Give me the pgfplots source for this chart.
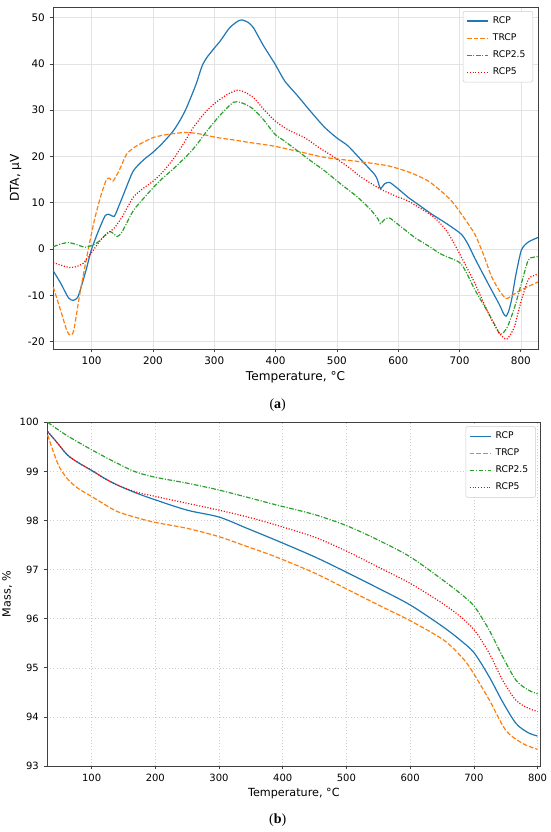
\documentclass[border=0pt]{standalone}
\usepackage{pgfplots}
\pgfplotsset{compat=1.18}
\usepackage{fontspec}
\setmainfont{DejaVu Sans}
\newfontfamily\capfont{Liberation Serif}
\definecolor{c0}{HTML}{1F77B4}
\definecolor{c1}{HTML}{FF7F0E}
\definecolor{c2}{HTML}{2CA02C}
\definecolor{c3}{HTML}{FF0000}
\pgfplotsset{
  mystyle/.style={
    scale only axis,
    axis line style={black!75, line width=0.6pt},
    tick align=outside,
    major tick length=2.6pt,
    tick style={black!75, line width=0.5pt},
    xtick pos=bottom, ytick pos=left,
    /pgf/number format/assume math mode=true,
    grid=major,
    legend cell align=left,
    legend image code/.code={\draw[##1] (0pt,0pt) -- (16pt,0pt);},
    legend style={at={(1,1)}, anchor=north east, xshift=-3.7pt, yshift=-3pt,
      draw=black!20, rounded corners=1.5pt, inner xsep=2.5pt, inner ysep=2pt,
      row sep=2.2pt,
      font=\fontsize{6.9}{8}\selectfont,
      nodes={inner xsep=3pt}},
  },
  s0/.style={color=c0, line width=0.9pt, smooth, tension=0.4},
  s1/.style={color=c1, line width=0.9pt, dash pattern=on 3.5pt off 1.5pt, smooth, tension=0.4},
  s2/.style={color=c2, line width=0.9pt, dash pattern=on 3.5pt off 1.2pt on 0.8pt off 1.2pt, smooth, tension=0.4},
  s3/.style={color=c3, line width=0.9pt, dash pattern=on 0.8pt off 1.3pt, smooth, tension=0.4},
}
\begin{document}
\begin{tikzpicture}
\path[use as bounding box] (0,0) rectangle (412.5pt,-624pt);
% ---------------- (a) DTA
\begin{axis}[mystyle,
  at={(39.75pt,-5.25pt)}, anchor=north west,
  width=363.75pt, height=256.5pt,
  xmin=37, xmax=828, ymin=-21.6, ymax=52.3,
  xtick={100,200,...,800}, ytick={-20,-10,0,10,20,30,40,50},
  grid style={gray!22, line width=0.4pt},
  tick label style={font=\fontsize{7.8}{9}\selectfont},
  label style={font=\fontsize{9.1}{11}\selectfont},
  xlabel={Temperature, °C}, ylabel={DTA, μV},
  xlabel style={yshift=2pt}, ylabel style={yshift=-2pt},
]
\addplot[s0] coordinates {
(37.4,-4.7) (50,-7.5) (62,-10.5) (70,-11.1) (78,-10.2) (90,-5.0) (100,0) (112,4.2) (122,7.2) (128,7.5) (137,7.1) (145,9.5) (155,12.8) (168,16.9) (185,19.3) (200,20.9) (215,22.8) (233,25.5) (245,28.0) (255,30.6) (270,35.5) (280,39.5) (288,41.4) (300,43.4) (310,45) (325,47.8) (338,49.2) (345,49.5) (355,49) (364,47.8) (380,44) (399,40) (415,36.3) (436,33.1) (458,29.6) (480,26.3) (500,24) (518,22.3) (540,19.2) (561,16.2) (566,15) (571,13.1) (578,14.1) (586,14.4) (600,13.0) (616,11.2) (635,9.4) (654,7.6) (680,5.4) (703,3.2) (714,1.0) (725,-2) (738,-5.3) (752,-8.8) (765,-12.0) (772,-14.0) (776,-14.5) (780,-13.5) (785,-10.9) (792,-5.5) (801,-0.2) (812,1.5) (828,2.5)
};
\addlegendentry{RCP}
\addplot[s1] coordinates {
(37.4,-8.2) (50,-13.5) (60,-17.8) (65.7,-18.6) (71,-17.5) (81,-9.5) (94.6,0) (105,6.5) (115,11.5) (124.5,15.1) (130,15.2) (135,14.7) (145,17.0) (157,20.5) (170,22.0) (179,22.7) (200.7,24.1) (225,24.8) (255,25.2) (280,24.8) (304,24.1) (330,23.6) (358.6,23) (380,22.6) (399,22.2) (440,21.0) (480,19.8) (530,19.0) (583,18) (620,16.5) (649,14.7) (670,12.5) (687,10.4) (705,7.2) (725,3.2) (740,-1.5) (752,-5.9) (765,-9.0) (776,-10.7) (786,-10.0) (797,-9.1) (812,-8.1) (828,-7.1)
};
\addlegendentry{TRCP}
\addplot[s2] coordinates {
(37.4,0.5) (50,1.1) (62,1.4) (75,1.0) (89,0.4) (103,0.9) (115,2.0) (124,3.3) (130,3.8) (137,3.2) (142,2.7) (150,3.8) (168,8.3) (185,11.0) (200.7,13.3) (215,15.2) (233,17.3) (255,20.1) (270,22.3) (288,25.5) (310,29.0) (331,31.7) (342,31.7) (352,31.2) (364,30.2) (380,28.0) (399,24.8) (415,23.3) (436,21.2) (458,19.0) (480,16.9) (505,14.2) (534,11.2) (555,8.5) (567,6.5) (571,5.5) (578,6.4) (586,6.7) (600,5.3) (627,2.5) (650,0.6) (670,-1.1) (700,-2.9) (712,-5.3) (725,-8.8) (747,-13.8) (760,-17.0) (766,-18.4) (772,-18.0) (779,-16.6) (790,-12.5) (801,-7.4) (812,-2.4) (820,-1.8) (828,-1.6)
};
\addlegendentry{RCP2.5}
\addplot[s3] coordinates {
(37.4,-2.9) (50,-3.5) (64.6,-4.0) (75,-3.8) (86,-3.1) (95,-1.6) (103,-0.2) (115,2.0) (124.5,3.2) (132,4.0) (138,4.7) (150,7.0) (168,11.2) (185,13.2) (200.7,14.7) (215,16.5) (233,19.4) (250,22.8) (266,26.3) (285,29.5) (299,31.3) (320,33.3) (337,34.3) (350,33.9) (364,32.7) (380,30.3) (399,27.7) (420,25.8) (447,24.1) (470,22.0) (496,19.8) (520,17.6) (540,15.5) (572,12.9) (595,11.5) (616,10.4) (640,8.5) (659,6.8) (677,4.3) (692,1.0) (710,-3.5) (725,-7.4) (740,-11.8) (752,-15.2) (765,-18.2) (776,-19.5) (783,-18.5) (790,-16.6) (800,-11.5) (812,-6.6) (820,-5.8) (828,-5.4)
};
\addlegendentry{RCP5}
\end{axis}
\node[font=\capfont\fontsize{10.5}{12}\selectfont] at (208.3pt,-303.75pt) {(\textbf{a})};
% ---------------- (b) Mass
\begin{axis}[mystyle,
  at={(35.25pt,-316.7pt)}, anchor=north west,
  width=370.3pt, height=257.8pt,
  xmin=30, xmax=805, ymin=93, ymax=100,
  xtick={100,200,...,800}, ytick={93,94,...,100},
  grid style={gray!40, line width=0.4pt, dotted},
  tick label style={font=\fontsize{7.5}{9}\selectfont},
  label style={font=\fontsize{8.4}{10}\selectfont},
  xlabel={Temperature, °C}, ylabel={Mass, \%},
  xlabel style={yshift=2pt}, ylabel style={yshift=-1pt},
]
\addplot[s0, tension=0.5] coordinates {
(31,99.81) (45,99.6) (62.4,99.33) (80,99.17) (100,99.02) (120,98.86) (140.7,98.72) (170,98.56) (200,98.42) (250,98.21) (300,98.07) (344,97.84) (389,97.6) (450,97.26) (501,96.94) (550,96.62) (600,96.28) (651,95.84) (680,95.55) (700.7,95.3) (724,94.82) (745,94.31) (766,93.87) (785,93.68) (800,93.61)
};
\addlegendentry{RCP}
\addplot[s1, tension=0.5] coordinates {
(31,99.74) (40,99.4) (49,99.1) (62,98.85) (78,98.66) (100,98.49) (120,98.33) (140.7,98.18) (170,98.06) (200,97.96) (250,97.84) (300,97.67) (344,97.47) (389,97.26) (450,96.93) (501,96.6) (550,96.28) (600,95.96) (651,95.58) (675,95.3) (693,95.02) (724,94.35) (750,93.73) (776.5,93.46) (800,93.34)
};
\addlegendentry{TRCP}
\addplot[s2, tension=0.5] coordinates {
(31,100.0) (60,99.74) (100,99.44) (135,99.2) (167,99.0) (200,98.88) (250,98.76) (300,98.62) (345,98.47) (389,98.32) (450,98.12) (501,97.89) (550,97.6) (600,97.26) (651,96.79) (680,96.5) (700.7,96.25) (724,95.77) (745,95.23) (766,94.75) (785,94.55) (800,94.47)
};
\addlegendentry{RCP2.5}
\addplot[s3, tension=0.5] coordinates {
(31,99.81) (45,99.6) (62.4,99.33) (80,99.17) (100,99.02) (120,98.86) (140.7,98.72) (170,98.58) (200,98.49) (250,98.35) (300,98.21) (345,98.07) (389,97.91) (450,97.66) (501,97.37) (550,97.05) (600,96.72) (651,96.31) (680,96.03) (700.7,95.77) (724,95.3) (745,94.75) (766,94.34) (785,94.18) (800,94.11)
};
\addlegendentry{RCP5}
\end{axis}
\node[font=\capfont\fontsize{10.5}{12}\selectfont] at (208.3pt,-615pt) {(\textbf{b})};
\end{tikzpicture}
\end{document}
